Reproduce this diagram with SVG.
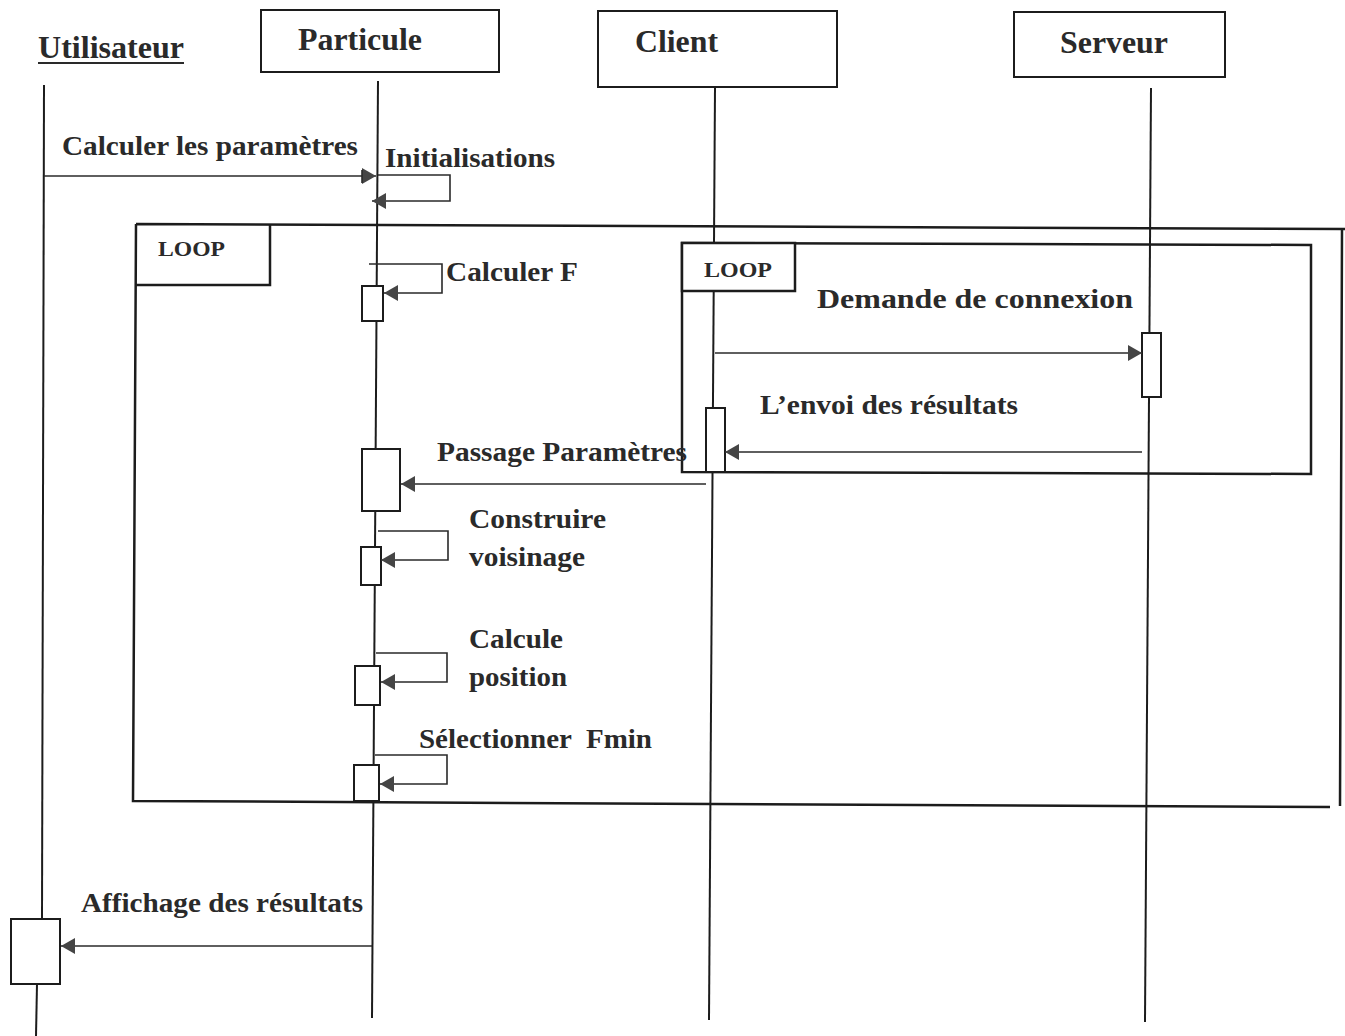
<svg xmlns="http://www.w3.org/2000/svg" width="1345" height="1036" viewBox="0 0 1345 1036">
  <defs>
    <style>
      .box { fill: #fff; stroke: #1c1c1c; stroke-width: 2; }
      .act { fill: #fff; stroke: #1c1c1c; stroke-width: 2; }
      .life { stroke: #1c1c1c; stroke-width: 2; fill: none; }
      .msg { stroke: #2a2a2a; stroke-width: 1.6; fill: none; }
      .frame { stroke: #1c1c1c; stroke-width: 2.5; fill: none; }
      .tag { stroke: #1c1c1c; stroke-width: 2.5; fill: #fff; }
      .t { font-family: "Liberation Serif", "Times New Roman", serif; font-weight: bold; fill: #2a2a2a; }
      .head { font-size: 31px; }
      .lbl { font-size: 27px; }
      .loop { font-size: 22px; }
    </style>
    <marker id="arr" viewBox="0 0 14 16" refX="14" refY="8" markerWidth="14" markerHeight="16" markerUnits="userSpaceOnUse" orient="auto">
      <path d="M0,0 L14,8 L0,16 Z" fill="#454545"/>
    </marker>
  </defs>

  <!-- Lifelines -->
  <g id="lifelines">
    <line class="life" x1="44" y1="85" x2="42" y2="919"/>
    <line class="life" x1="37" y1="984" x2="36" y2="1036"/>
    <line class="life" x1="378" y1="81" x2="372" y2="1018"/>
    <line class="life" x1="715" y1="88" x2="709" y2="1020"/>
    <line class="life" x1="1151" y1="88" x2="1145" y2="1022"/>
  </g>

  <!-- Combined fragments -->
  <g id="loop-outer">
    <path class="frame" d="M136,224 L1345,229 M1342,229 L1340,806 M1330,807 L133,801 L136,224"/>
    <path class="frame" d="M136,285 H270 V224"/>
    <text class="t loop" x="158" y="256" textLength="67" lengthAdjust="spacingAndGlyphs">LOOP</text>
  </g>
  <g id="loop-inner">
    <path class="frame" d="M682,243 L1311,245 L1311,474 L682,472 Z"/>
    <path class="tag" d="M682,243 H795 V291 H682 Z"/>
    <text class="t loop" x="704" y="277" textLength="68" lengthAdjust="spacingAndGlyphs">LOOP</text>
  </g>

  <!-- Participants -->
  <g id="utilisateur">
    <text class="t head" x="38" y="58" textLength="146" lengthAdjust="spacingAndGlyphs">Utilisateur</text>
    <line x1="38" y1="63" x2="184" y2="63" stroke="#2a2a2a" stroke-width="2"/>
    <rect class="act" x="11" y="919" width="49" height="65"/>
  </g>
  <g id="particule">
    <rect class="box" x="261" y="10" width="238" height="62"/>
    <text class="t head" x="298" y="50" textLength="124" lengthAdjust="spacingAndGlyphs">Particule</text>
    <rect class="act" x="362" y="286" width="21" height="35"/>
    <rect class="act" x="362" y="449" width="38" height="62"/>
    <rect class="act" x="361" y="547" width="20" height="38"/>
    <rect class="act" x="355" y="666" width="25" height="39"/>
    <rect class="act" x="354" y="765" width="25" height="36"/>
  </g>
  <g id="client">
    <rect class="box" x="598" y="11" width="239" height="76"/>
    <text class="t head" x="635" y="52" textLength="83" lengthAdjust="spacingAndGlyphs">Client</text>
    <rect class="act" x="706" y="408" width="19" height="64"/>
  </g>
  <g id="serveur">
    <rect class="box" x="1014" y="12" width="211" height="65"/>
    <text class="t head" x="1060" y="53" textLength="108" lengthAdjust="spacingAndGlyphs">Serveur</text>
    <rect class="act" x="1142" y="333" width="19" height="64"/>
  </g>

  <!-- Messages -->
  <g id="connectors">
    <line class="msg" x1="44" y1="176" x2="376" y2="176" marker-end="url(#arr)"/>
    <line class="msg" x1="362" y1="170" x2="362" y2="183"/>
    <path class="msg" d="M378,175 H450 V201 H372" marker-end="url(#arr)"/>
    <path class="msg" d="M369,264 H442 V293 H384" marker-end="url(#arr)"/>
    <line class="msg" x1="715" y1="353" x2="1142" y2="353" stroke-width="2" marker-end="url(#arr)"/>
    <line class="msg" x1="1142" y1="452" x2="725" y2="452" marker-end="url(#arr)"/>
    <line class="msg" x1="706" y1="484" x2="401" y2="484" marker-end="url(#arr)"/>
    <path class="msg" d="M378,531 H448 V560 H381" marker-end="url(#arr)"/>
    <path class="msg" d="M376,653 H447 V682 H381" marker-end="url(#arr)"/>
    <path class="msg" d="M375,755 H447 V784 H380" marker-end="url(#arr)"/>
    <line class="msg" x1="372" y1="946" x2="61" y2="946" marker-end="url(#arr)"/>
  </g>

  <!-- Message labels -->
  <g id="labels">
    <text class="t lbl" x="62" y="155" textLength="296" lengthAdjust="spacingAndGlyphs">Calculer les paramètres</text>
    <text class="t lbl" x="385" y="167" textLength="170" lengthAdjust="spacingAndGlyphs">Initialisations</text>
    <text class="t lbl" x="446" y="281" textLength="132" lengthAdjust="spacingAndGlyphs">Calculer F</text>
    <text class="t lbl" x="817" y="308" textLength="316" lengthAdjust="spacingAndGlyphs">Demande de connexion</text>
    <text class="t lbl" x="760" y="414" textLength="258" lengthAdjust="spacingAndGlyphs">L’envoi des résultats</text>
    <text class="t lbl" x="437" y="461" textLength="250" lengthAdjust="spacingAndGlyphs">Passage Paramètres</text>
    <text class="t lbl" x="469" y="528" textLength="137" lengthAdjust="spacingAndGlyphs">Construire</text>
    <text class="t lbl" x="469" y="566" textLength="116" lengthAdjust="spacingAndGlyphs">voisinage</text>
    <text class="t lbl" x="469" y="648" textLength="94" lengthAdjust="spacingAndGlyphs">Calcule</text>
    <text class="t lbl" x="469" y="686" textLength="98" lengthAdjust="spacingAndGlyphs">position</text>
    <text class="t lbl" x="419" y="748" textLength="233" lengthAdjust="spacingAndGlyphs" xml:space="preserve">Sélectionner  Fmin</text>
    <text class="t lbl" x="81" y="912" textLength="282" lengthAdjust="spacingAndGlyphs">Affichage des résultats</text>
  </g>
</svg>
